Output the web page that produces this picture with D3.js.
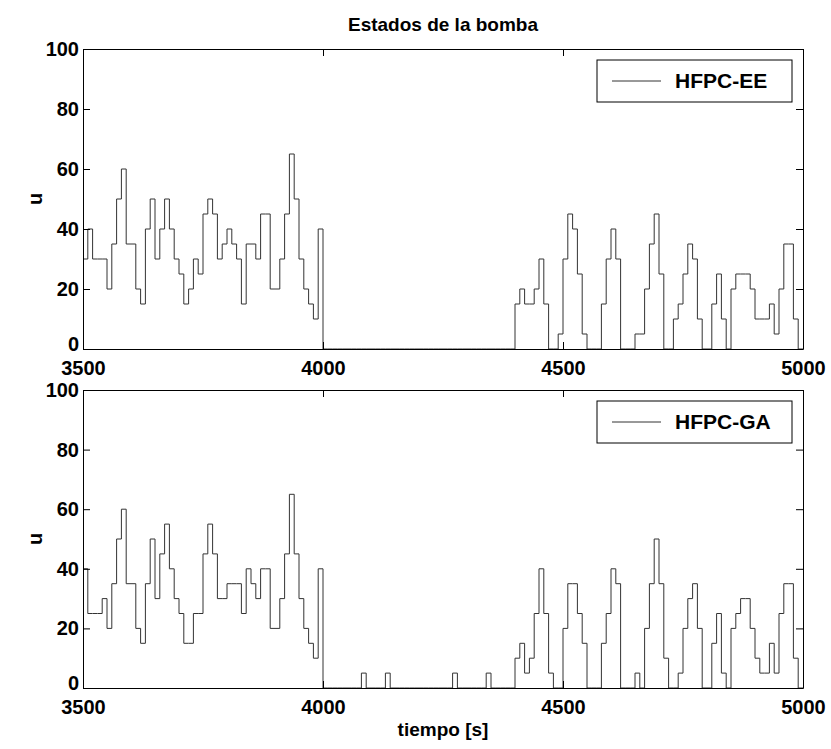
<!DOCTYPE html>
<html>
<head>
<meta charset="utf-8">
<script src="https://cdn.jsdelivr.net/npm/d3@7/dist/d3.min.js"></script>
<style>
  body { margin: 0; background: #fff; }
  svg text { font-family: "Liberation Sans", Arial, sans-serif; font-weight: bold; fill: #000; }
</style>
</head>
<body>
<svg id="chart" width="831" height="749"></svg>
<script>
// sample grid: one value every 10 s starting at 3500 s
const t0 = 3500, dt = 10;
const xTicks = [3500, 4000, 4500, 5000];
const yTicks = [0, 20, 40, 60, 80, 100];

const seriesEE = [
  30, 40, 30, 30, 30, 20, 35, 50, 60, 35,
  35, 20, 15, 40, 50, 30, 40, 50, 40, 30,
  25, 15, 20, 30, 25, 45, 50, 45, 30, 35,
  40, 35, 30, 15, 35, 35, 30, 45, 45, 20,
  20, 30, 45, 65, 50, 30, 20, 15, 10, 40,
  0, 0, 0, 0, 0, 0, 0, 0, 0, 0,
  0, 0, 0, 0, 0, 0, 0, 0, 0, 0,
  0, 0, 0, 0, 0, 0, 0, 0, 0, 0,
  0, 0, 0, 0, 0, 0, 0, 0, 0, 0,
  15, 20, 15, 15, 20, 30, 15, 0, 0, 5,
  30, 45, 40, 25, 5, 0, 0, 0, 15, 30,
  40, 30, 0, 0, 0, 5, 5, 20, 35, 45,
  25, 0, 0, 10, 15, 25, 35, 30, 10, 0,
  0, 15, 25, 10, 0, 20, 25, 25, 25, 20,
  10, 10, 10, 15, 5, 20, 35, 35, 10, 0
];

const seriesGA = [
  40, 25, 25, 25, 30, 20, 35, 50, 60, 35,
  35, 20, 15, 35, 50, 30, 45, 55, 40, 30,
  25, 15, 15, 25, 25, 45, 55, 45, 30, 30,
  35, 35, 35, 25, 40, 35, 30, 40, 40, 20,
  20, 30, 45, 65, 45, 30, 20, 15, 10, 40,
  0, 0, 0, 0, 0, 0, 0, 0, 5, 0,
  0, 0, 0, 5, 0, 0, 0, 0, 0, 0,
  0, 0, 0, 0, 0, 0, 0, 5, 0, 0,
  0, 0, 0, 0, 5, 0, 0, 0, 0, 0,
  10, 15, 5, 10, 25, 40, 25, 5, 0, 0,
  20, 35, 35, 25, 15, 0, 0, 0, 15, 25,
  40, 35, 0, 0, 0, 5, 0, 20, 35, 50,
  35, 10, 0, 0, 5, 20, 30, 35, 20, 0,
  0, 15, 25, 5, 0, 20, 25, 30, 30, 20,
  10, 5, 5, 15, 5, 25, 35, 35, 10, 0
];

const panels = [
  { name: "HFPC-EE", values: seriesEE, top: 49, bottom: 349, xlabel: null },
  { name: "HFPC-GA", values: seriesGA, top: 390, bottom: 688, xlabel: "tiempo [s]" }
];

const left = 83, right = 803;
const svg = d3.select("#chart");

const x = d3.scaleLinear().domain([3500, 5000]).range([left, right]);

svg.append("text")
  .attr("x", (left + right) / 2)
  .attr("y", 31)
  .attr("text-anchor", "middle")
  .style("font-size", "19px")
  .text("Estados de la bomba");

panels.forEach((p, pi) => {
  const y = d3.scaleLinear().domain([0, 100]).range([p.bottom, p.top]);
  const g = svg.append("g");

  const pts = p.values.map((v, i) => [t0 + i * dt, v]);
  pts.push([5000, p.values[p.values.length - 1]]);

  const line = d3.line()
    .x(d => x(d[0]))
    .y(d => y(d[1]))
    .curve(d3.curveStepAfter);

  g.append("path")
    .datum(pts)
    .attr("fill", "none")
    .attr("stroke", "#333")
    .attr("stroke-width", 1)
    .attr("d", line);

  // axes with inward ticks, MATLAB style box
  const tickLen = 7;
  g.append("g")
    .attr("transform", `translate(0,${p.bottom})`)
    .call(d3.axisBottom(x).tickValues(xTicks).tickSizeInner(-tickLen).tickSizeOuter(0).tickPadding(12).tickFormat(d3.format("d")))
    .call(a => a.selectAll("text").style("font-size", "20px"));
  g.append("g")
    .attr("transform", `translate(0,${p.top})`)
    .call(d3.axisTop(x).tickValues(xTicks).tickSizeInner(-tickLen).tickSizeOuter(0).tickFormat(""));
  g.append("g")
    .attr("transform", `translate(${left},0)`)
    .call(d3.axisLeft(y).tickValues(yTicks).tickSizeInner(-tickLen).tickSizeOuter(0).tickPadding(4))
    .call(a => a.selectAll("text").style("font-size", "20px"))
    .call(a => a.selectAll(".tick").filter(d => d === 0).select("text").attr("dy", "0.05em"));
  g.append("g")
    .attr("transform", `translate(${right},0)`)
    .call(d3.axisRight(y).tickValues(yTicks).tickSizeInner(-tickLen).tickSizeOuter(0).tickFormat(""));
  g.selectAll(".domain").attr("stroke", "#000");
  g.selectAll(".tick line").attr("stroke", "#000");

  g.append("text")
    .attr("transform", `translate(42,${(p.top + p.bottom) / 2}) rotate(-90)`)
    .attr("text-anchor", "middle")
    .style("font-size", "20px")
    .text("u");

  if (p.xlabel) {
    svg.append("text")
      .attr("x", (left + right) / 2)
      .attr("y", p.bottom + 48)
      .attr("text-anchor", "middle")
      .style("font-size", "19px")
      .text(p.xlabel);
  }

  // legend box
  const lx = 597, lw = 195, ly = p.top + 11, lh = 42;
  g.append("rect")
    .attr("x", lx).attr("y", ly).attr("width", lw).attr("height", lh)
    .attr("fill", "#fff").attr("stroke", "#000");
  g.append("line")
    .attr("x1", lx + 15).attr("x2", lx + 64)
    .attr("y1", ly + lh / 2).attr("y2", ly + lh / 2)
    .attr("stroke", "#333");
  g.append("text")
    .attr("x", lx + 78).attr("y", ly + lh / 2 + 7)
    .style("font-size", "21px")
    .text(p.name);
});
</script>
</body>
</html>
